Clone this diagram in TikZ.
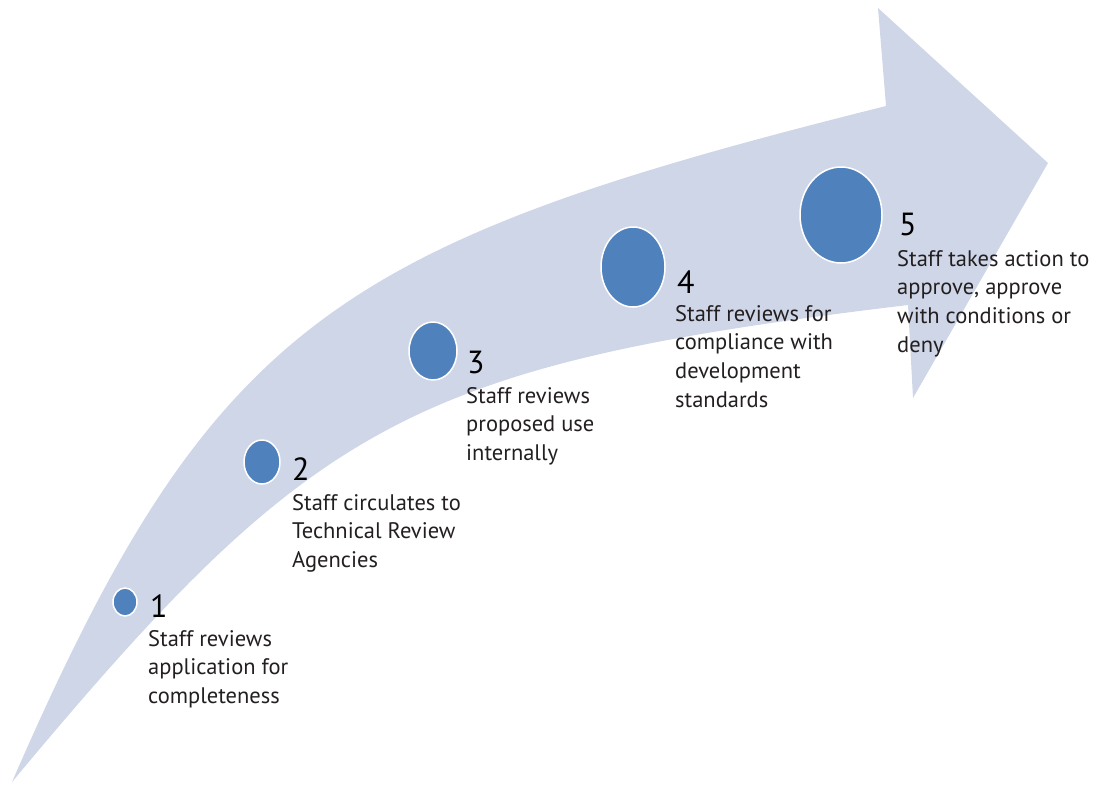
\documentclass[tikz,border=0pt]{standalone}
\usepackage{fontspec}
\setmainfont{PT Sans}
\usetikzlibrary{shapes.geometric}
\definecolor{arrowfill}{RGB}{207,214,232}
\definecolor{dotblue}{RGB}{79,129,189}
\definecolor{txt}{RGB}{35,31,32}
\tikzset{
  dot/.style={ellipse, fill=dotblue, draw=white, line width=1.5pt, inner sep=0pt},
  num/.style={anchor=base west, inner sep=0pt, font=\fontsize{32}{32}\selectfont, text=black},
  desc/.style={anchor=base west, inner sep=0pt, font=\fontsize{22.5}{28.7}\selectfont, text=txt},
}
\newcommand{\lines}[1]{\vtop{\baselineskip=28.7pt\lineskiplimit=-20pt\halign{##\hfil\cr#1\crcr}}}
\begin{document}
\begin{tikzpicture}[x=1pt,y=-1pt]
\useasboundingbox (0,0) rectangle (1099,788);
% curved arrow
\fill[arrowfill]
  (12,782) .. controls (212,322) and (336,243.5) .. (886,106)
  -- (878,8) -- (1048,163) -- (913,398) -- (908,305)
  .. controls (408,365) and (312,422) .. (12,782)
  -- cycle;
% dots
\node[dot, minimum width=24, minimum height=28] (c1) at (125,602) {};
\node[dot, minimum width=36, minimum height=44] (c2) at (262,462) {};
\node[dot, minimum width=48, minimum height=58] (c3) at (433,351) {};
\node[dot, minimum width=64, minimum height=80] (c4) at (633,267) {};
\node[dot, minimum width=82, minimum height=96] (c5) at (841,215) {};
% numbers
\node[num] (n1) at (150,617) {1};
\node[num] (n2) at (292,480) {2};
\node[num] (n3) at (467,373) {3};
\node[num] (n4) at (677,293) {4};
\node[num] (n5) at (899,235) {5};
% descriptions
\node[desc] (t1) at (148,646) {\lines{Staff reviews\cr application for\cr completeness}};
\node[desc] (t2) at (292,510) {\lines{Staff circulates to\cr Technical Review\cr Agencies}};
\node[desc] (t3) at (466,403) {\lines{Staff reviews\cr proposed use\cr internally}};
\node[desc] (t4) at (675,321) {\lines{Staff reviews for\cr compliance with\cr development\cr standards}};
\node[desc] (t5) at (897,266) {\lines{Staff takes action to\cr approve, approve\cr with conditions or\cr deny}};
\end{tikzpicture}
\end{document}
